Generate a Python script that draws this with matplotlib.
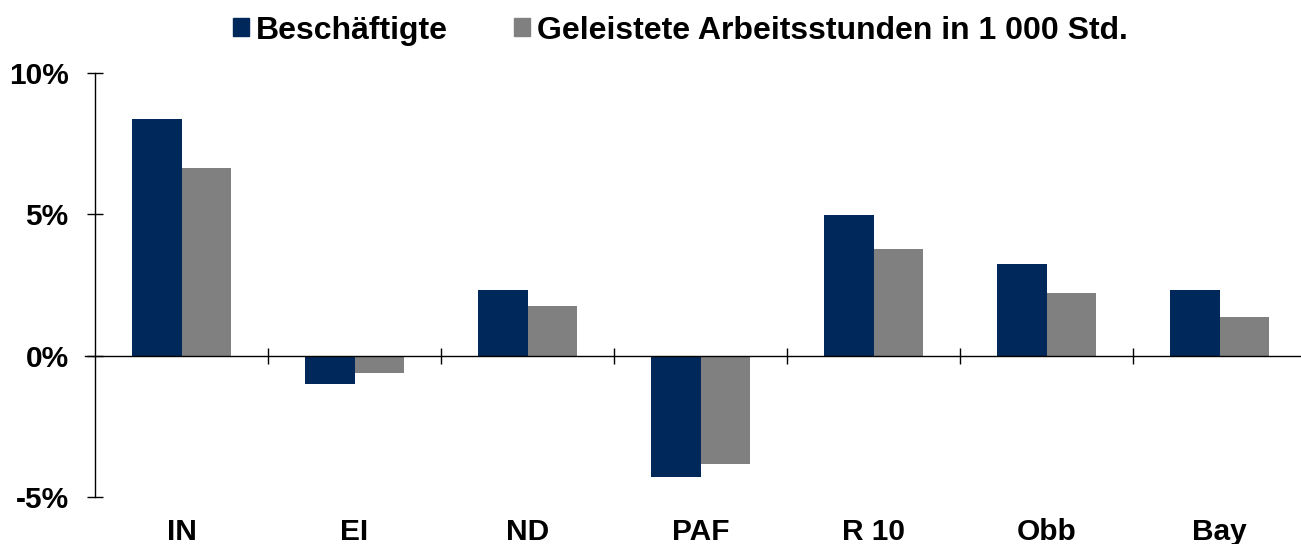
import matplotlib.pyplot as plt
import numpy as np
from matplotlib.patches import Patch
from matplotlib.ticker import FuncFormatter

plt.rcParams['font.family'] = ['Liberation Sans', 'DejaVu Sans']
plt.rcParams['font.weight'] = 'bold'

# Data (percent change)
regions = ['IN', 'EI', 'ND', 'PAF', 'R 10', 'Obb', 'Bay']
beschaeftigte = [8.37, -0.99, 2.34, -4.29, 4.96, 3.26, 2.34]
arbeitsstunden = [6.63, -0.60, 1.77, -3.83, 3.76, 2.20, 1.38]
series_names = ['Beschäftigte', 'Geleistete Arbeitsstunden in 1 000 Std.']
colors = ['#00285A', '#808080']

fig = plt.figure(figsize=(13.01, 5.44), dpi=100)
ax = fig.add_axes([95 / 1301, 1 - 497 / 544, 1 - 95 / 1301, (497 - 73) / 544])

x = np.arange(len(regions))
w = 0.286
ax.bar(x - w / 2, beschaeftigte, w, color=colors[0], edgecolor='none')
ax.bar(x + w / 2, arbeitsstunden, w, color=colors[1], edgecolor='none')

ax.set_xlim(-0.5, 6.47)
ax.set_ylim(-5, 10)
ax.set_yticks([-5, 0, 5, 10])
ax.yaxis.set_major_formatter(FuncFormatter(lambda v, p: f'{v:.0f}%'))
ax.tick_params(axis='y', direction='inout', length=12, width=1, labelsize=21.5, pad=13)

# category labels at the bottom, no tick marks
ax.set_xticks(x)
ax.set_xticklabels(regions)
ax.tick_params(axis='x', length=0, labelsize=21.5, pad=15)

for s in ['top', 'right', 'bottom']:
    ax.spines[s].set_visible(False)
ax.spines['left'].set_linewidth(1)

# zero line with separator ticks
ax.axhline(0, color='black', lw=1, xmin=-0.008, clip_on=False)
sec = ax.secondary_xaxis(5 / 15)
sec.set_xticks(x[:-1] + 0.5)
sec.tick_params(direction='inout', length=12, width=1, labelbottom=False, labeltop=False)
sec.spines['top'].set_visible(False)
sec.spines['bottom'].set_visible(False)

handles = [Patch(color=c) for c in colors]
fig.legend(handles, series_names, loc='center', bbox_to_anchor=(0.523, 0.9435), ncol=2,
           frameon=False, fontsize=23, handlelength=0.5, handleheight=0.5,
           handletextpad=0.22, columnspacing=2.06, borderaxespad=0)

fig.savefig('out.png', dpi=100)
